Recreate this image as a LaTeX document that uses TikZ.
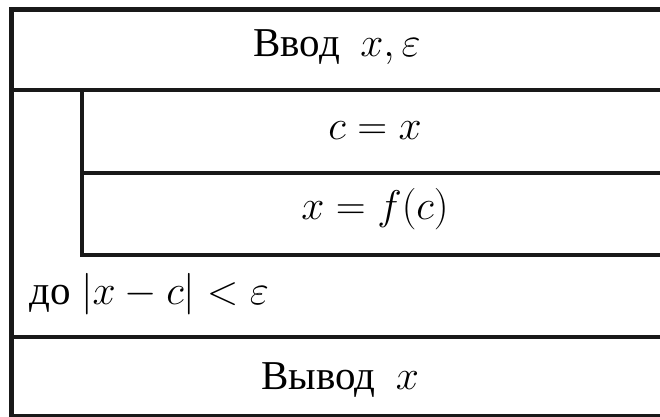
\documentclass[tikz,border=0pt]{standalone}
\usepackage{fontspec}
\setmainfont{Liberation Serif}
\begin{document}
\begin{tikzpicture}[x=0.5pt,y=-0.5pt,
  frame/.style={line width=2.3pt,draw=black!90},
  txt/.style={font=\fontsize{20.5}{24}\selectfont,inner sep=0pt}]
\useasboundingbox (0,0) rectangle (660,417);
\clip (0,0) rectangle (660,417);
% outer frame
\draw[frame] (11.5,9.5) rectangle (665,416);
\draw[frame] (11.5,90) -- (665,90);
\draw[frame] (11.5,337) -- (665,337);
% loop body
\draw[frame] (82,90) -- (82,255) -- (665,255);
\draw[frame] (82,173) -- (665,173);
% texts
\node[txt,anchor=base] (in) at (337,57) {Ввод\hspace{0.5em}$x,\varepsilon$};
\node[txt,anchor=base] (s1) at (375,140) {$c=x$};
\node[txt,anchor=base] (s2) at (375,220) {$x=f(c)$};
\node[txt,anchor=base west] (cond) at (29,305) {до $|x-c|<\varepsilon$};
\node[txt,anchor=base] (out) at (340,390) {Вывод\hspace{0.5em}$x$};
\end{tikzpicture}
\end{document}
